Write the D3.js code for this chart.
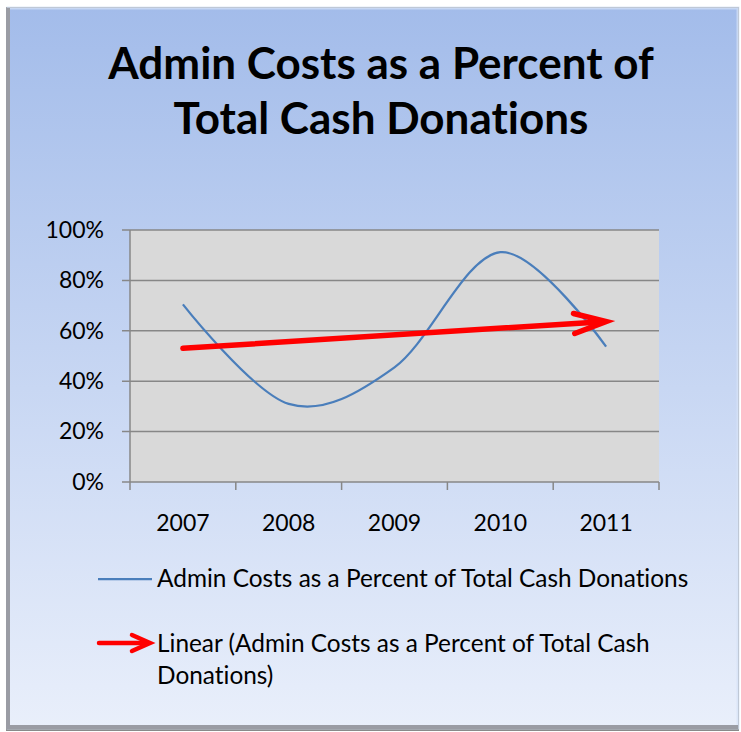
<!DOCTYPE html>
<html>
<head>
<meta charset="utf-8">
<script src="https://cdn.jsdelivr.net/npm/d3@7"></script>
<style>
  body { margin: 0; background: #fff; }
  text { font-family: Lato, "Open Sans", sans-serif; fill: #000; font-variant-ligatures: none; }
</style>
</head>
<body>
<div id="chart"></div>
<script>
// data
var years = ["2007", "2008", "2009", "2010", "2011"];
var adminPct = [0.705, 0.31, 0.455, 0.912, 0.537];
var yTicks = [0, 0.2, 0.4, 0.6, 0.8, 1.0];
var titleLines = ["Admin Costs as a Percent of", "Total Cash Donations"];
var seriesName = "Admin Costs as a Percent of Total Cash Donations";
var trendLines = ["Linear (Admin Costs as a Percent of Total Cash", "Donations)"];

var W = 741, H = 732;
var margin = { top: 230, left: 130, right: 82, bottom: 250 };
var w = W - margin.left - margin.right;
var h = H - margin.top - margin.bottom;

var svg = d3.select("#chart").append("svg")
    .attr("width", W)
    .attr("height", H);

var defs = svg.append("defs");
var bg = defs.append("linearGradient").attr("id", "bg")
    .attr("x1", 0).attr("y1", 0).attr("x2", 0).attr("y2", 1);
bg.append("stop").attr("offset", "0%").attr("stop-color", "#a3bcea");
bg.append("stop").attr("offset", "100%").attr("stop-color", "#e9effb");

// frame with bevel
svg.append("rect").attr("x", 6).attr("y", 7).attr("width", 733).attr("height", 724)
    .attr("fill", "#8a8a8a");
svg.append("rect").attr("x", 8).attr("y", 8).attr("width", 730).attr("height", 720)
    .attr("fill", "url(#bg)");
svg.append("rect").attr("x", 8).attr("y", 8).attr("width", 730).attr("height", 720)
    .attr("fill", "none").attr("stroke", "#d6e2f6").attr("stroke-width", 3).attr("opacity", 0.7);
svg.append("line").attr("x1", 8).attr("x2", 738).attr("y1", 727).attr("y2", 727)
    .attr("stroke", "#9a9ca4").attr("stroke-width", 4);
svg.append("line").attr("x1", 8).attr("x2", 8).attr("y1", 8).attr("y2", 729)
    .attr("stroke", "#9a9ca4").attr("stroke-width", 4);

// title
svg.append("g").selectAll("text")
    .data(titleLines).enter().append("text")
    .attr("x", 381)
    .attr("y", function(d, i) { return 79 + i * 55; })
    .attr("text-anchor", "middle")
    .style("font-size", "44px")
    .style("font-weight", "bold")
    .text(function(d) { return d; });

var g = svg.append("g")
    .attr("transform", "translate(" + margin.left + "," + margin.top + ")");

// scales
var xScale = d3.scaleBand().domain(years).range([0, w]);
var xMid = function(d) { return xScale(d) + xScale.bandwidth() / 2; };
var yScale = d3.scaleLinear().domain([0, 1]).range([h, 0]);

// plot area
g.append("rect").attr("width", w).attr("height", h).attr("fill", "#d9d9d9");

// gridlines
g.append("g").selectAll("line")
    .data(yTicks).enter().append("line")
    .attr("x1", -8).attr("x2", w)
    .attr("y1", function(d) { return yScale(d); })
    .attr("y2", function(d) { return yScale(d); })
    .attr("stroke", "#878787").attr("stroke-width", 1.5);

// y axis
var yAxis = d3.axisLeft(yScale).tickValues(yTicks).tickFormat(d3.format(".0%")).tickSize(0).tickPadding(26);
var yg = g.append("g").call(yAxis);
yg.select(".domain").remove();
yg.selectAll("text").style("font-size", "23px");
g.append("line").attr("x1", 0).attr("x2", 0).attr("y1", 0).attr("y2", h)
    .attr("stroke", "#878787").attr("stroke-width", 1.5);

// x axis: ticks between categories
var xAxis = d3.axisBottom(xScale).tickSize(0).tickPadding(33);
var xg = g.append("g").attr("transform", "translate(0," + h + ")").call(xAxis);
xg.select(".domain").remove();
xg.selectAll("text").style("font-size", "23px");
var bounds = years.map(function(d) { return xScale(d); }).concat([w]);
g.append("g").selectAll("line")
    .data(bounds).enter().append("line")
    .attr("x1", function(d) { return d; }).attr("x2", function(d) { return d; })
    .attr("y1", h).attr("y2", h + 8)
    .attr("stroke", "#878787").attr("stroke-width", 1.5);

// series line, smoothed
var line = d3.line()
    .x(function(d, i) { return xMid(years[i]); })
    .y(function(d) { return yScale(d); })
    .curve(d3.curveCatmullRom.alpha(0));

g.append("path")
    .datum(adminPct)
    .attr("d", line)
    .style("fill", "none")
    .style("stroke", "#4a7ebb")
    .style("stroke-width", 2.25);

// linear trendline (least squares)
var n = adminPct.length;
var xs = d3.range(1, n + 1);
var mx = d3.mean(xs), my = d3.mean(adminPct);
var slope = d3.sum(xs, function(x, i) { return (x - mx) * (adminPct[i] - my); }) /
    d3.sum(xs, function(x) { return (x - mx) * (x - mx); });
var icpt = my - slope * mx;
var trend = [icpt + slope * 1, icpt + slope * n];

function arrow(sel, x1, y1, x2, y2, headLen, headW, sw) {
    var ang = Math.atan2(y2 - y1, x2 - x1);
    var c = Math.cos(ang), s = Math.sin(ang);
    sel.append("line")
        .attr("x1", x1).attr("y1", y1).attr("x2", x2 - c * 3).attr("y2", y2 - s * 3)
        .attr("stroke", "#ff0000").attr("stroke-width", sw).attr("stroke-linecap", "round");
    var ax = x2 - c * headLen, ay = y2 - s * headLen;
    sel.append("path")
        .attr("d", "M" + (ax - s * headW) + "," + (ay + c * headW) +
            "L" + x2 + "," + y2 +
            "L" + (ax + s * headW) + "," + (ay - c * headW))
        .attr("fill", "none").attr("stroke", "#ff0000").attr("stroke-width", sw)
        .attr("stroke-linecap", "round").attr("stroke-linejoin", "miter");
}

arrow(g, xMid(years[0]), yScale(trend[0]), xMid(years[n - 1]), yScale(trend[1]), 32, 10, 5.5);

// legend
var lg = svg.append("g");
lg.append("line").attr("x1", 98).attr("x2", 152).attr("y1", 579).attr("y2", 579)
    .attr("stroke", "#4a7ebb").attr("stroke-width", 2.25);
lg.append("text").attr("x", 157).attr("y", 587).style("font-size", "24.4px").text(seriesName);

arrow(lg, 99, 643, 150, 643, 18, 8, 4.5);
lg.selectAll("text.trend")
    .data(trendLines).enter().append("text")
    .attr("class", "trend")
    .attr("x", 157)
    .attr("y", function(d, i) { return 652 + i * 32; })
    .style("font-size", "24.4px")
    .text(function(d) { return d; });
</script>
</body>
</html>
